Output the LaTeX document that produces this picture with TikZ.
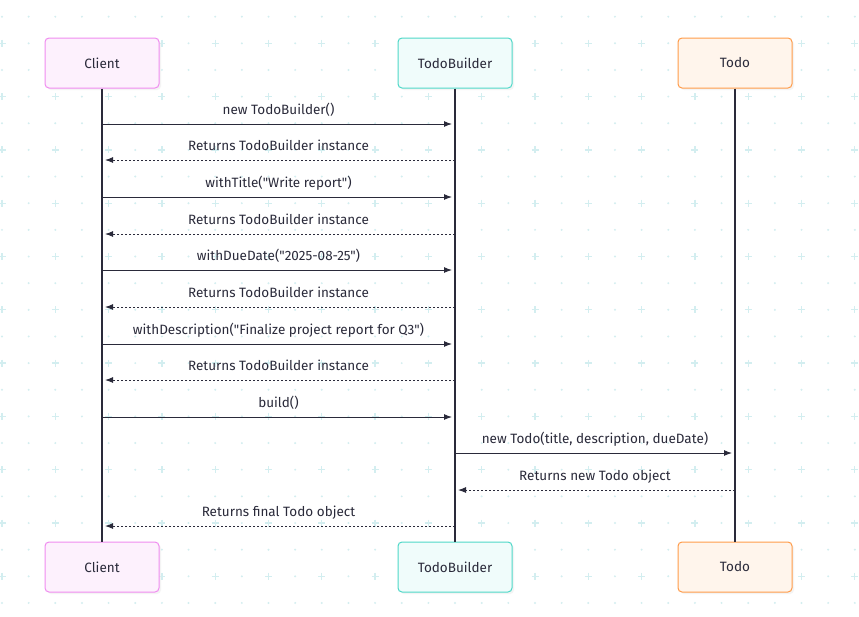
\documentclass[tikz,border=0pt]{standalone}
\usepackage{fontspec}
\setmainfont{Fira Sans}[Ligatures=TeXOff]
\usetikzlibrary{arrows.meta,positioning,shadows}

\definecolor{inkdark}{HTML}{2A2A3A}
\definecolor{gridcyan}{HTML}{D3EEF0}
\definecolor{clientpink}{HTML}{F08CF0}
\definecolor{clientlight}{HTML}{FDF1FD}
\definecolor{builderteal}{HTML}{4FD8C8}
\definecolor{builderlight}{HTML}{F0FCFB}
\definecolor{todoorange}{HTML}{FF9C4A}
\definecolor{todolight}{HTML}{FFF5EC}
\newcommand{\straightq}{\char"22\relax}

\begin{document}
\begin{tikzpicture}[x=1pt, y=-1pt,
		actor/.style={draw, line width=1pt, rounded corners=4pt,
			minimum width=114pt, minimum height=50pt, align=center,
			text=inkdark, font=\fontsize{13.5}{15}\selectfont,
			drop shadow={shadow xshift=2pt, shadow yshift=-2pt, fill=black!8}},
		lifeline/.style={inkdark, line width=1.4pt},
		call/.style={-{Latex[length=8pt,width=6pt]}, inkdark, line width=1pt, shorten >=3pt},
		reply/.style={call, dash pattern=on 2pt off 2pt},
		msg/.style={anchor=base, yshift=10pt, inner sep=0pt, text=inkdark,
			font=\fontsize{13.5}{15}\selectfont}
	]
		\useasboundingbox (0,0) rectangle (859,616);
		\fill[white] (0,0) rectangle (859,616);

		% background grid
		\foreach \i in {0,...,32}
			\foreach \k in {-1,...,21} {
				\pgfmathsetmacro{\gx}{2+26.65*\i}
				\pgfmathsetmacro{\gy}{43.3+26.65*\k}
				\pgfmathtruncatemacro{\isplus}{(mod(\i,2)==0)&&(mod(\k+2,2)==0)}
				\ifnum\isplus=1
					\draw[gridcyan, line width=1.3pt] (\gx-3.5,\gy) -- (\gx+3.5,\gy) (\gx,\gy-3.5) -- (\gx,\gy+3.5);
				\else
					\fill[gridcyan] (\gx,\gy) circle (1.1pt);
				\fi
			}

		% actors
		\node[actor, draw=clientpink, fill=clientlight] (cl) at (102,63) {Client};
		\node[actor, draw=builderteal, fill=builderlight] (tb) at (455,63) {TodoBuilder};
		\node[actor, draw=todoorange, fill=todolight] (td) at (735,63) {Todo};
		\node[actor, draw=clientpink, fill=clientlight] (clb) at (102,567) {Client};
		\node[actor, draw=builderteal, fill=builderlight] (tbb) at (455,567) {TodoBuilder};
		\node[actor, draw=todoorange, fill=todolight] (tdb) at (735,567) {Todo};

		\draw[lifeline] (cl.south) -- (clb.north);
		\draw[lifeline] (tb.south) -- (tbb.north);
		\draw[lifeline] (td.south) -- (tdb.north);

		% message points on the lifelines
		\foreach \n/\y in {1/124,2/160,3/197,4/234,5/270,6/307,7/344,8/380,9/417,10/453,11/490,12/526} {
			\coordinate (c\n) at (102,\y);
			\coordinate (b\n) at (455,\y);
			\coordinate (t\n) at (735,\y);
		}

		\draw[call] (c1) -- node[msg] {new TodoBuilder()} (b1);
		\draw[reply] (b2) -- node[msg] {Returns TodoBuilder instance} (c2);
		\draw[call] (c3) -- node[msg] {withTitle(\straightq Write report\straightq)} (b3);
		\draw[reply] (b4) -- node[msg] {Returns TodoBuilder instance} (c4);
		\draw[call] (c5) -- node[msg] {withDueDate(\straightq 2025-08-25\straightq)} (b5);
		\draw[reply] (b6) -- node[msg] {Returns TodoBuilder instance} (c6);
		\draw[call] (c7) -- node[msg] {withDescription(\straightq Finalize project report for Q3\straightq)} (b7);
		\draw[reply] (b8) -- node[msg] {Returns TodoBuilder instance} (c8);
		\draw[call] (c9) -- node[msg] {build()} (b9);
		\draw[call] (b10) -- node[msg] {new Todo(title, description, dueDate)} (t10);
		\draw[reply] (t11) -- node[msg] {Returns new Todo object} (b11);
		\draw[reply] (b12) -- node[msg] {Returns final Todo object} (c12);
	\end{tikzpicture}
\end{document}
